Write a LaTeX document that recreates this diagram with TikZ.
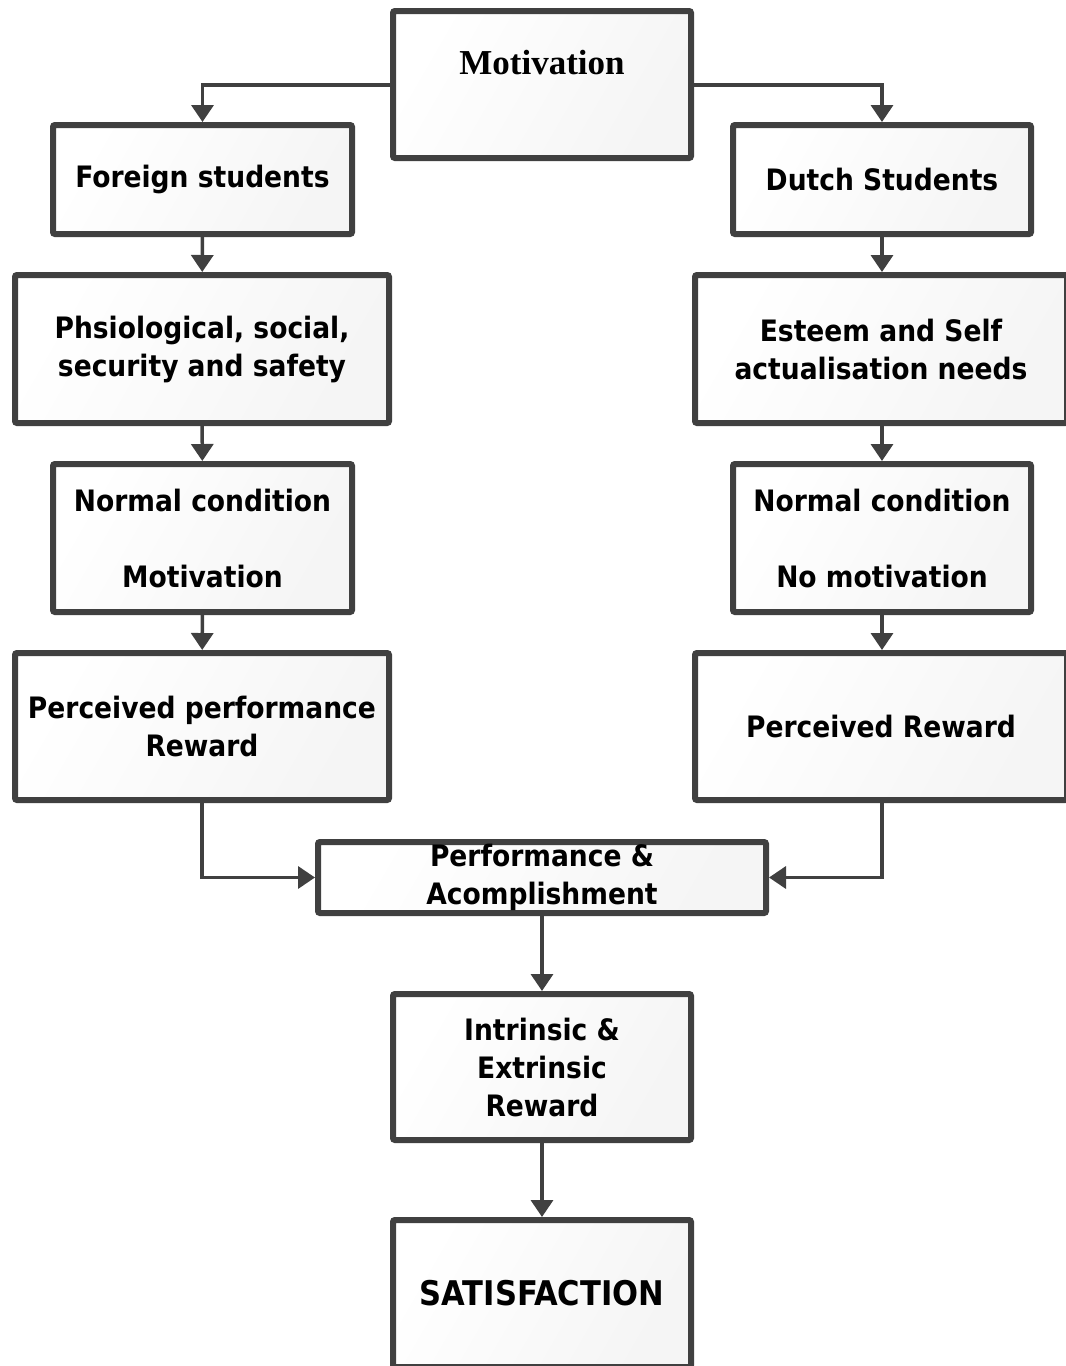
\documentclass[tikz,border=0pt]{standalone}
\usepackage{fontspec}
\setsansfont{DejaVu Sans Condensed}
\newfontfamily\titlefont{Liberation Serif}
\usetikzlibrary{arrows.meta}
\definecolor{edge}{HTML}{404040}
\tikzset{
  box/.style={draw=edge, line width=6pt, rounded corners=2pt,
    shading=axis, left color=white, right color=gray!8, shading angle=60,
    align=center, inner sep=0pt,
    font=\sffamily\bfseries\fontsize{29.5}{38}\selectfont, text=black},
  link/.style={draw=edge, line width=3.5pt,
    -{Triangle[width=22pt,length=17pt]}}
}
\begin{document}
\begin{tikzpicture}[x=1pt,y=-1pt]
\useasboundingbox (0,0) rectangle (1066,1366);
\clip (0,0) rectangle (1066,1366);

% top box
\node[box, minimum width=298pt, minimum height=147pt] (mot) at (542,84.5) {};
\node[font=\titlefont\bfseries\fontsize{35}{40}\selectfont] (motT) at (542,63) {Motivation};

% left column
\node[box, minimum width=299pt, minimum height=109pt] (fs) at (202.5,179.5) {Foreign students};
\node[box, minimum width=374pt, minimum height=148pt] (phys) at (202,349) {Phsiological, social,\\security and safety};
\node[box, minimum width=299pt, minimum height=148pt] (ncl) at (202.5,538) {Normal condition\\[38pt]Motivation};
\node[box, minimum width=374pt, minimum height=147pt] (ppr) at (202,726.5) {Perceived performance\\Reward};

% right column
\node[box, minimum width=298pt, minimum height=109pt] (ds) at (882,179.5) {Dutch Students};
\node[box, minimum width=372pt, minimum height=148pt] (est) at (881,349) {Esteem and Self\\actualisation needs};
\node[box, minimum width=298pt, minimum height=148pt] (ncr) at (882,538) {Normal condition\\[38pt]No motivation};
\node[box, minimum width=372pt, minimum height=147pt] (prr) at (881,726.5) {Perceived Reward};

% merged path
\node[box, minimum width=448pt, minimum height=71pt] (pa) at (542,877.5) {Performance \&\\Acomplishment};
\node[box, minimum width=298pt, minimum height=146pt] (ier) at (542,1067) {Intrinsic \&\\Extrinsic\\Reward};
\node[box, minimum width=298pt, minimum height=147pt, font=\sffamily\bfseries\fontsize{34}{38}\selectfont] (sat) at (542,1293.5) {SATISFACTION};

% connectors
\draw[link] (mot.west |- 0,85) -| (fs.north);
\draw[link] (mot.east |- 0,85) -| (ds.north);
\draw[link] (fs) -- (phys);
\draw[link] (phys) -- (ncl);
\draw[link] (ncl) -- (ppr);
\draw[link] (ds.south) -- (est.north -| ds.south);
\draw[link] (est.south -| ds.south) -- (ncr.north);
\draw[link] (ncr.south) -- (prr.north -| ncr.south);
\draw[link] (ppr.south) |- (pa.west);
\draw[link] (prr.south -| ncr.south) |- (pa.east);
\draw[link] (pa) -- (ier);
\draw[link] (ier) -- (sat);
\end{tikzpicture}
\end{document}
